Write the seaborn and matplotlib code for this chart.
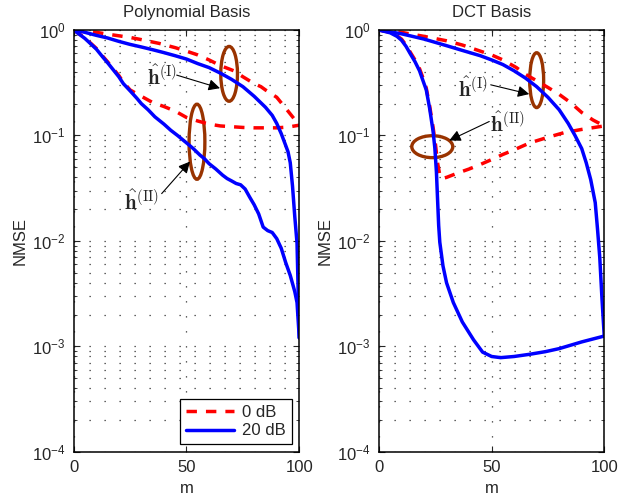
import numpy as np
import pandas as pd
import matplotlib
matplotlib.use("Agg")
import matplotlib.pyplot as plt
from matplotlib.patches import Ellipse
import seaborn as sns

sns.set_style("ticks")
plt.rcParams['font.family'] = ['Liberation Sans', 'DejaVu Sans']
plt.rcParams['mathtext.fontset'] = 'cm'

# ---------------- data ----------------
# Polynomial basis
poly_I_20_m = [0, 5, 10, 15, 20, 25, 30, 35, 40, 45, 50, 55, 60, 65, 70, 75, 80, 85, 88, 90, 92, 94, 95, 96, 97, 98, 99, 100]
poly_I_20_v = [1.0, 0.95, 0.89, 0.84, 0.78, 0.73, 0.69, 0.65, 0.61, 0.57, 0.53, 0.48, 0.44, 0.39, 0.34, 0.29, 0.235, 0.185,
               0.155, 0.13, 0.104, 0.08, 0.07, 0.055, 0.033, 0.017, 0.0095, 0.0012]
poly_I_0_m = [0, 10, 17, 25, 30, 38, 45, 50, 55, 60, 65, 71, 75, 80, 83, 85, 90, 95, 100]
poly_I_0_v = [1.0, 0.95, 0.9, 0.85, 0.81, 0.745, 0.68, 0.63, 0.58, 0.52, 0.46, 0.41, 0.36, 0.31, 0.29, 0.27, 0.23, 0.17, 0.125]
poly_II_0_m = [0, 5, 10, 13, 15, 20, 22, 25, 30, 35, 40, 45, 50, 55, 60, 65, 70, 75, 80, 85, 90, 95, 100]
poly_II_0_v = [1.0, 0.84, 0.67, 0.56, 0.5, 0.37, 0.32, 0.27, 0.235, 0.205, 0.188, 0.17, 0.148, 0.137, 0.128, 0.123,
               0.121, 0.119, 0.118, 0.118, 0.118, 0.12, 0.125]
poly_II_20_m = [0, 5, 10, 13, 15, 20, 22, 25, 28, 30, 33, 36, 40, 43, 46, 50, 53, 56, 58, 60, 63, 66, 68, 70, 72, 74, 76,
                78, 80, 82, 84, 86, 88, 90, 92, 94, 96, 98, 99, 100]
poly_II_20_v = [1.0, 0.83, 0.66, 0.55, 0.49, 0.36, 0.31, 0.265, 0.225, 0.2, 0.175, 0.15, 0.128, 0.112, 0.1, 0.085, 0.075,
                0.065, 0.06, 0.054, 0.048, 0.042, 0.039, 0.037, 0.035, 0.034, 0.031, 0.026, 0.022, 0.018, 0.0135,
                0.0125, 0.012, 0.0105, 0.0085, 0.0062, 0.0047, 0.0033, 0.0026, 0.0012]

# DCT basis
dct_I_20_m = [0, 10, 20, 30, 37, 45, 50, 55, 60, 65, 70, 75, 80, 84, 87, 90, 92, 94, 96, 97, 98, 99, 100]
dct_I_20_v = [1.0, 0.92, 0.82, 0.71, 0.64, 0.57, 0.52, 0.47, 0.41, 0.35, 0.29, 0.23, 0.175, 0.13, 0.1, 0.075, 0.055,
              0.038, 0.023, 0.013, 0.007, 0.0028, 0.00125]
dct_I_0_m = [0, 10, 20, 30, 37, 45, 50, 55, 61, 65, 70, 75, 80, 85, 90, 95, 100]
dct_I_0_v = [1.0, 0.95, 0.87, 0.79, 0.72, 0.63, 0.58, 0.52, 0.44, 0.38, 0.33, 0.285, 0.245, 0.205, 0.165, 0.14, 0.123]
dct_II_0_m = [0, 5, 8, 10, 12, 14, 16, 18, 20, 21, 22.5, 24, 25, 26, 27, 28, 30, 35, 40, 45, 50, 55, 60, 67, 75, 82, 90, 100]
dct_II_0_v = [1.0, 0.95, 0.88, 0.82, 0.72, 0.61, 0.52, 0.43, 0.33, 0.28, 0.19, 0.12, 0.085, 0.055, 0.042, 0.039,
              0.04, 0.044, 0.048, 0.053, 0.059, 0.066, 0.073, 0.085, 0.096, 0.106, 0.114, 0.123]
dct_II_20_m = [0, 5, 8, 10, 12, 14, 16, 18, 20, 21, 22.5, 24, 24.8, 25.5, 26, 26.5, 27, 28.4, 30, 33, 37, 42, 46, 50,
               54, 60, 67, 74, 80, 90, 100]
dct_II_20_v = [1.0, 0.94, 0.87, 0.8, 0.7, 0.59, 0.5, 0.41, 0.31, 0.27, 0.18, 0.11, 0.076, 0.045, 0.025, 0.014, 0.0097,
               0.0058, 0.004, 0.0026, 0.0017, 0.00115, 0.00088, 0.0008, 0.00078, 0.0008, 0.00084, 0.00089, 0.00095,
               0.0011, 0.00125]

titles = ["Polynomial Basis", "DCT Basis"]
snr_labels = ["0 dB", "20 dB"]
x_ticks = [0, 50, 100]

# ---------------- figure ----------------
fig = plt.figure(figsize=(6.38, 4.99), dpi=100)
ax1 = fig.add_axes([0.1155, 0.0948, 0.3536, 0.8451])
ax2 = fig.add_axes([0.5940, 0.0948, 0.3531, 0.8451])

red_ls = (0, (3.0, 2.6))
lw = 2.5
FS = 12

panels = [
    (ax1, [(poly_I_0_m, poly_I_0_v), (poly_II_0_m, poly_II_0_v)],
          [(poly_I_20_m, poly_I_20_v), (poly_II_20_m, poly_II_20_v)]),
    (ax2, [(dct_I_0_m, dct_I_0_v), (dct_II_0_m, dct_II_0_v)],
          [(dct_I_20_m, dct_I_20_v), (dct_II_20_m, dct_II_20_v)]),
]

for i, (ax, reds, blues) in enumerate(panels):
    for j, (m, v) in enumerate(reds):
        df = pd.DataFrame({"m": m, "NMSE": v})
        sns.lineplot(data=df, x="m", y="NMSE", ax=ax, color=(1, 0, 0), lw=lw, linestyle=red_ls,
                     estimator=None, sort=False, label=snr_labels[0] if j == 0 else None, legend=False)
    for j, (m, v) in enumerate(blues):
        df = pd.DataFrame({"m": m, "NMSE": v})
        sns.lineplot(data=df, x="m", y="NMSE", ax=ax, color=(0, 0, 1), lw=lw,
                     estimator=None, sort=False, label=snr_labels[1] if j == 0 else None, legend=False)
    ax.set_yscale("log")
    ax.set_xlim(0, 100)
    ax.set_ylim(1e-4, 1)
    ax.set_xticks(x_ticks)
    ax.set_xticklabels([str(t) for t in x_ticks])
    ax.set_title(titles[i], fontsize=FS, pad=9)
    ax.set_xlabel("m", fontsize=FS, labelpad=4)
    ax.set_ylabel("NMSE", fontsize=FS, labelpad=3)
    ax.tick_params(axis="both", which="both", direction="in", top=True, right=True, labelsize=FS)
    ax.tick_params(axis="both", which="major", length=4, width=0.8, pad=6)
    ax.tick_params(axis="y", which="minor", length=2.5, width=0.6)
    ax.tick_params(axis="x", which="minor", bottom=False, top=False)
    ax.grid(True, which="both", axis="y", color="#303030", linestyle=(0, (1, 11)), lw=0.9)
    ax.grid(True, which="major", axis="x", color="#303030", linestyle=(0, (1, 11)), lw=0.9)
    for s in ax.spines.values():
        s.set_linewidth(1.1)
        s.set_color("k")

brown = "#993300"
lab_I = r"$\hat{\mathbf{h}}^{(\mathrm{I})}$"
lab_II = r"$\hat{\mathbf{h}}^{(\mathrm{II})}$"
arrow = dict(arrowstyle="-|>", color="k", lw=0.8, mutation_scale=17, shrinkA=0, shrinkB=0)
LFS = 15

# left annotations
ax1.add_patch(Ellipse((0.689, 0.896), 0.074, 0.130, transform=ax1.transAxes, fill=False, ec=brown, lw=2.4))
ax1.add_patch(Ellipse((0.5465, 0.735), 0.070, 0.178, transform=ax1.transAxes, fill=False, ec=brown, lw=2.4))
ax1.text(0.39, 0.889, lab_I, transform=ax1.transAxes, ha="center", va="center", fontsize=LFS)
ax1.annotate("", xy=(0.6485, 0.862), xytext=(0.4566, 0.893), xycoords="axes fraction", arrowprops=arrow)
ax1.text(0.30, 0.593, lab_II, transform=ax1.transAxes, ha="center", va="center", fontsize=LFS)
ax1.annotate("", xy=(0.5155, 0.688), xytext=(0.39, 0.612), xycoords="axes fraction", arrowprops=arrow)

# right annotations
ax2.add_patch(Ellipse((0.700, 0.881), 0.062, 0.130, transform=ax2.transAxes, fill=False, ec=brown, lw=2.4))
ax2.add_patch(Ellipse((0.2366, 0.7233), 0.182, 0.052, transform=ax2.transAxes, fill=False, ec=brown, lw=2.4))
ax2.text(0.4186, 0.862, lab_I, transform=ax2.transAxes, ha="center", va="center", fontsize=LFS)
ax2.annotate("", xy=(0.667, 0.848), xytext=(0.496, 0.870), xycoords="axes fraction", arrowprops=arrow)
ax2.text(0.570, 0.779, lab_II, transform=ax2.transAxes, ha="center", va="center", fontsize=LFS)
ax2.annotate("", xy=(0.312, 0.738), xytext=(0.4896, 0.783), xycoords="axes fraction", arrowprops=arrow)

# legend (left panel)
handles, labels = ax1.get_legend_handles_labels()
leg = ax1.legend(handles, labels, loc="lower right", fontsize=FS, frameon=True, fancybox=False,
                 edgecolor="k", framealpha=1, handlelength=2.9, handletextpad=0.5,
                 labelspacing=0.2, borderaxespad=0.45, borderpad=0.35)
leg.get_frame().set_linewidth(0.9)

fig.savefig("out.png", dpi=100)
